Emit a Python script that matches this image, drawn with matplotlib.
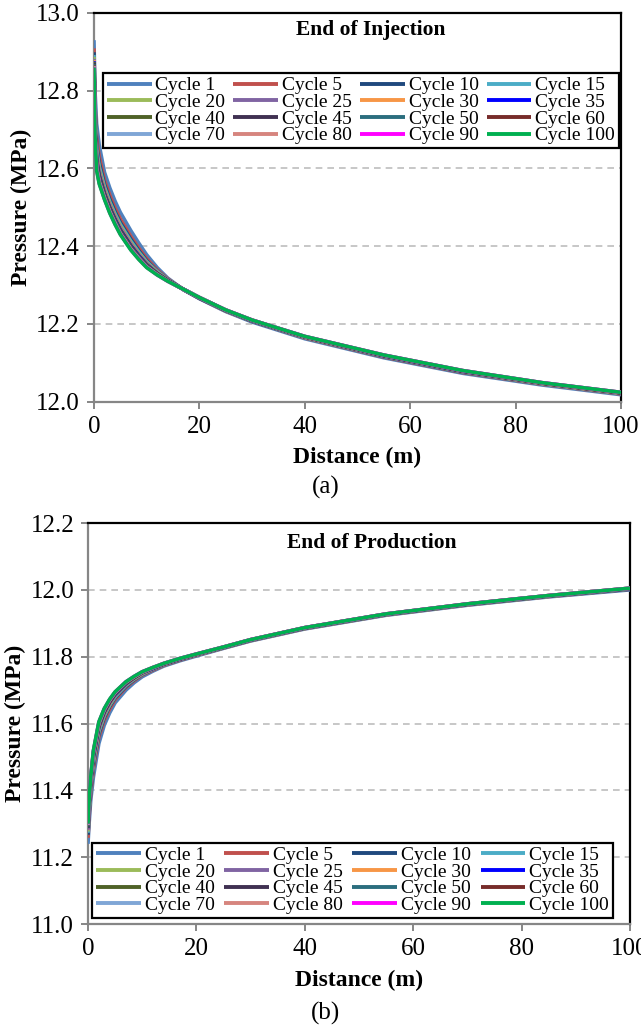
import matplotlib
matplotlib.use("Agg")
import matplotlib.pyplot as plt

plt.rcParams['font.family'] = ['Liberation Serif', 'DejaVu Serif']

# Distance from the well (m)
distance = [0, 0.2, 0.5, 1, 2, 3, 4, 5, 7, 8.5, 10, 12, 14, 17, 20, 25, 30, 40, 55, 70, 85, 100]

cycles = ["Cycle 1", "Cycle 5", "Cycle 10", "Cycle 15", "Cycle 20", "Cycle 25",
          "Cycle 30", "Cycle 35", "Cycle 40", "Cycle 45", "Cycle 50", "Cycle 60",
          "Cycle 70", "Cycle 80", "Cycle 90", "Cycle 100"]

colors = ["#4F81BD", "#C0504D", "#1F497D", "#4BACC6", "#9BBB59", "#8064A2",
          "#F79646", "#0000FF", "#4F6228", "#403152", "#2B6E7E", "#772C2A",
          "#7FA6D6", "#D6857E", "#FF00FF", "#00B050"]

# Pressure profiles at the end of injection (MPa)
inj_c1   = [12.930, 12.800, 12.715, 12.660, 12.590, 12.550, 12.516, 12.487, 12.440, 12.408, 12.378, 12.345, 12.318, 12.288, 12.265, 12.232, 12.205, 12.162, 12.113, 12.073, 12.043, 12.018]
inj_c5   = [12.909, 12.764, 12.679, 12.630, 12.569, 12.531, 12.498, 12.470, 12.425, 12.395, 12.368, 12.339, 12.316, 12.288, 12.266, 12.233, 12.207, 12.164, 12.115, 12.075, 12.045, 12.020]
inj_c10  = [12.899, 12.746, 12.661, 12.615, 12.559, 12.521, 12.489, 12.461, 12.418, 12.389, 12.363, 12.336, 12.314, 12.288, 12.266, 12.234, 12.207, 12.165, 12.116, 12.076, 12.046, 12.021]
inj_c15  = [12.892, 12.734, 12.649, 12.605, 12.552, 12.514, 12.483, 12.456, 12.413, 12.385, 12.360, 12.335, 12.314, 12.289, 12.267, 12.234, 12.208, 12.165, 12.117, 12.077, 12.046, 12.021]
inj_c20  = [12.887, 12.726, 12.641, 12.598, 12.547, 12.510, 12.479, 12.452, 12.409, 12.382, 12.358, 12.333, 12.313, 12.289, 12.267, 12.234, 12.208, 12.166, 12.117, 12.077, 12.047, 12.022]
inj_c25  = [12.882, 12.718, 12.633, 12.592, 12.542, 12.506, 12.475, 12.448, 12.406, 12.379, 12.356, 12.332, 12.313, 12.289, 12.267, 12.235, 12.208, 12.166, 12.118, 12.078, 12.047, 12.022]
inj_c30  = [12.879, 12.712, 12.627, 12.587, 12.539, 12.503, 12.472, 12.445, 12.404, 12.377, 12.354, 12.331, 12.312, 12.289, 12.267, 12.235, 12.209, 12.166, 12.118, 12.078, 12.047, 12.022]
inj_c35  = [12.876, 12.708, 12.623, 12.583, 12.536, 12.500, 12.470, 12.443, 12.402, 12.376, 12.353, 12.330, 12.312, 12.289, 12.267, 12.235, 12.209, 12.167, 12.118, 12.078, 12.048, 12.023]
inj_c40  = [12.874, 12.704, 12.619, 12.580, 12.534, 12.498, 12.468, 12.441, 12.400, 12.374, 12.352, 12.330, 12.312, 12.289, 12.267, 12.235, 12.209, 12.167, 12.119, 12.079, 12.048, 12.023]
inj_c45  = [12.871, 12.699, 12.614, 12.576, 12.531, 12.495, 12.466, 12.439, 12.398, 12.373, 12.350, 12.329, 12.311, 12.289, 12.268, 12.235, 12.209, 12.167, 12.119, 12.079, 12.048, 12.023]
inj_c50  = [12.869, 12.696, 12.611, 12.573, 12.529, 12.493, 12.464, 12.437, 12.397, 12.372, 12.349, 12.329, 12.311, 12.289, 12.268, 12.235, 12.209, 12.167, 12.119, 12.079, 12.048, 12.023]
inj_c60  = [12.866, 12.691, 12.606, 12.569, 12.526, 12.491, 12.461, 12.435, 12.395, 12.370, 12.348, 12.328, 12.311, 12.289, 12.268, 12.236, 12.210, 12.167, 12.119, 12.079, 12.048, 12.023]
inj_c70  = [12.864, 12.687, 12.602, 12.566, 12.524, 12.489, 12.460, 12.433, 12.393, 12.369, 12.347, 12.327, 12.310, 12.289, 12.268, 12.236, 12.210, 12.168, 12.120, 12.080, 12.049, 12.024]
inj_c80  = [12.863, 12.685, 12.600, 12.564, 12.523, 12.488, 12.458, 12.432, 12.392, 12.368, 12.346, 12.327, 12.310, 12.289, 12.268, 12.236, 12.210, 12.168, 12.120, 12.080, 12.049, 12.024]
inj_c90  = [12.861, 12.682, 12.597, 12.562, 12.521, 12.486, 12.457, 12.431, 12.391, 12.367, 12.346, 12.326, 12.310, 12.289, 12.268, 12.236, 12.210, 12.168, 12.120, 12.080, 12.049, 12.024]
inj_c100 = [12.860, 12.680, 12.595, 12.560, 12.520, 12.485, 12.456, 12.430, 12.390, 12.366, 12.345, 12.326, 12.310, 12.289, 12.268, 12.236, 12.210, 12.168, 12.120, 12.080, 12.049, 12.024]

# Pressure profiles at the end of production (MPa)
prod_c1   = [11.240, 11.300, 11.370, 11.440, 11.540, 11.595, 11.632, 11.662, 11.700, 11.722, 11.740, 11.757, 11.772, 11.788, 11.802, 11.825, 11.847, 11.883, 11.924, 11.954, 11.979, 12.000]
prod_c5   = [11.258, 11.321, 11.391, 11.464, 11.560, 11.610, 11.644, 11.672, 11.708, 11.728, 11.745, 11.760, 11.774, 11.790, 11.804, 11.826, 11.848, 11.884, 11.925, 11.955, 11.980, 12.002]
prod_c10  = [11.267, 11.332, 11.402, 11.476, 11.569, 11.618, 11.651, 11.677, 11.711, 11.731, 11.747, 11.762, 11.776, 11.791, 11.805, 11.827, 11.849, 11.885, 11.926, 11.956, 11.981, 12.002]
prod_c15  = [11.273, 11.339, 11.409, 11.484, 11.576, 11.623, 11.655, 11.680, 11.714, 11.733, 11.748, 11.763, 11.776, 11.792, 11.805, 11.827, 11.849, 11.885, 11.926, 11.956, 11.981, 12.003]
prod_c20  = [11.277, 11.343, 11.413, 11.490, 11.580, 11.626, 11.657, 11.683, 11.716, 11.734, 11.749, 11.764, 11.777, 11.792, 11.806, 11.827, 11.849, 11.885, 11.926, 11.956, 11.981, 12.003]
prod_c25  = [11.281, 11.348, 11.418, 11.494, 11.584, 11.629, 11.660, 11.684, 11.717, 11.735, 11.750, 11.764, 11.777, 11.793, 11.806, 11.828, 11.850, 11.886, 11.927, 11.957, 11.982, 12.003]
prod_c30  = [11.284, 11.351, 11.421, 11.498, 11.588, 11.632, 11.662, 11.686, 11.718, 11.736, 11.751, 11.765, 11.778, 11.793, 11.806, 11.828, 11.850, 11.886, 11.927, 11.957, 11.982, 12.004]
prod_c35  = [11.286, 11.354, 11.424, 11.502, 11.590, 11.634, 11.664, 11.687, 11.719, 11.737, 11.752, 11.765, 11.778, 11.793, 11.807, 11.828, 11.850, 11.886, 11.927, 11.957, 11.982, 12.004]
prod_c40  = [11.288, 11.356, 11.426, 11.504, 11.592, 11.635, 11.665, 11.688, 11.720, 11.737, 11.752, 11.766, 11.778, 11.794, 11.807, 11.828, 11.850, 11.886, 11.927, 11.957, 11.982, 12.004]
prod_c45  = [11.290, 11.359, 11.429, 11.507, 11.595, 11.637, 11.666, 11.690, 11.721, 11.738, 11.753, 11.766, 11.779, 11.794, 11.807, 11.828, 11.850, 11.886, 11.927, 11.957, 11.982, 12.004]
prod_c50  = [11.292, 11.361, 11.431, 11.510, 11.597, 11.639, 11.668, 11.691, 11.722, 11.739, 11.753, 11.767, 11.779, 11.794, 11.807, 11.828, 11.850, 11.886, 11.927, 11.957, 11.982, 12.004]
prod_c60  = [11.295, 11.364, 11.434, 11.513, 11.599, 11.641, 11.669, 11.692, 11.723, 11.739, 11.754, 11.767, 11.779, 11.794, 11.807, 11.829, 11.851, 11.887, 11.928, 11.958, 11.983, 12.005]
prod_c70  = [11.296, 11.366, 11.436, 11.515, 11.601, 11.642, 11.671, 11.693, 11.724, 11.740, 11.754, 11.767, 11.780, 11.795, 11.808, 11.829, 11.851, 11.887, 11.928, 11.958, 11.983, 12.005]
prod_c80  = [11.298, 11.367, 11.437, 11.517, 11.602, 11.643, 11.671, 11.694, 11.724, 11.740, 11.754, 11.768, 11.780, 11.795, 11.808, 11.829, 11.851, 11.887, 11.928, 11.958, 11.983, 12.005]
prod_c90  = [11.299, 11.369, 11.439, 11.518, 11.604, 11.644, 11.672, 11.694, 11.725, 11.741, 11.755, 11.768, 11.780, 11.795, 11.808, 11.829, 11.851, 11.887, 11.928, 11.958, 11.983, 12.005]
prod_c100 = [11.300, 11.370, 11.440, 11.520, 11.605, 11.645, 11.673, 11.695, 11.725, 11.741, 11.755, 11.768, 11.780, 11.795, 11.808, 11.829, 11.851, 11.887, 11.928, 11.958, 11.983, 12.005]

injection = [inj_c1, inj_c5, inj_c10, inj_c15, inj_c20, inj_c25, inj_c30, inj_c35,
             inj_c40, inj_c45, inj_c50, inj_c60, inj_c70, inj_c80, inj_c90, inj_c100]
production = [prod_c1, prod_c5, prod_c10, prod_c15, prod_c20, prod_c25, prod_c30, prod_c35,
              prod_c40, prod_c45, prod_c50, prod_c60, prod_c70, prod_c80, prod_c90, prod_c100]

x_ticks = [0, 20, 40, 60, 80, 100]
inj_ticks = [12.0, 12.2, 12.4, 12.6, 12.8, 13.0]
prod_ticks = [11.0, 11.2, 11.4, 11.6, 11.8, 12.0, 12.2]

GREY = "#868686"
NCOL = 4

fig = plt.figure(figsize=(6.41, 10.30), dpi=100)
ax1 = fig.add_axes([0.1466, 0.6100, 0.8222, 0.3774])
ax2 = fig.add_axes([0.1373, 0.1029, 0.8456, 0.3893])


def draw_panel(ax, profiles, yticks, title, title_xy, leg_bbox, leg_loc):
    lines = []
    for series, lab, col in zip(profiles, cycles, colors):
        ln, = ax.plot(distance, series, color=col, lw=2.6, label=lab, zorder=3,
                      solid_capstyle="butt", solid_joinstyle="round")
        lines.append(ln)
    ax.set_xlim(0, 100)
    ax.set_ylim(yticks[0], yticks[-1])
    ax.set_xticks(x_ticks)
    ax.set_yticks(yticks)
    ax.set_yticklabels([f"{t:.1f}" for t in yticks])
    for t in yticks[1:-1]:
        ax.axhline(t, color="#BDBDBD", lw=1.2, ls=(0, (4, 3)), zorder=1)
    ax.spines["left"].set_color(GREY)
    ax.spines["bottom"].set_color(GREY)
    ax.spines["top"].set_color("black")
    ax.spines["right"].set_color("black")
    for s in ax.spines.values():
        s.set_linewidth(1.6)
    ax.tick_params(axis="both", direction="out", length=5, width=1.4,
                   color=GREY, labelsize=18, pad=5)
    ax.set_xlabel("Distance (m)", fontsize=17, fontweight="bold", labelpad=7)
    ax.set_ylabel("Pressure (MPa)", fontsize=17, fontweight="bold", labelpad=3)
    ax.text(title_xy[0], title_xy[1], title, transform=ax.transAxes,
            ha="center", va="center", fontsize=15.5, fontweight="bold", zorder=5)

    # legend is filled column by column, so reorder to read across rows
    nrow = len(lines) // NCOL
    order = [r * NCOL + c for c in range(NCOL) for r in range(nrow)]
    leg = ax.legend([lines[i] for i in order], [cycles[i] for i in order],
                    loc=leg_loc, bbox_to_anchor=leg_bbox, mode="expand",
                    ncol=NCOL, fontsize=14, frameon=True, fancybox=False,
                    edgecolor="black", framealpha=1, borderpad=0.2,
                    labelspacing=-0.05, handlelength=2.3, handletextpad=0.2,
                    borderaxespad=0, columnspacing=0.4)
    leg.get_frame().set_linewidth(1.6)
    leg.set_zorder(6)
    for h in leg.get_lines():
        h.set_linewidth(2.8)


draw_panel(ax1, injection, inj_ticks, "End of Injection", (0.526, 0.956),
           (0.017, 0.6656, 0.979, 0.18), "upper left")
draw_panel(ax2, production, prod_ticks, "End of Production", (0.524, 0.950),
           (0.0074, 0.015, 0.961, 0.18), "lower left")

fig.text(326 / 641, 1 - 487 / 1030, "(a)", ha="center", va="center", fontsize=18)
fig.text(326 / 641, 1 - 1013 / 1030, "(b)", ha="center", va="center", fontsize=18)

fig.savefig("out.png", dpi=100)
